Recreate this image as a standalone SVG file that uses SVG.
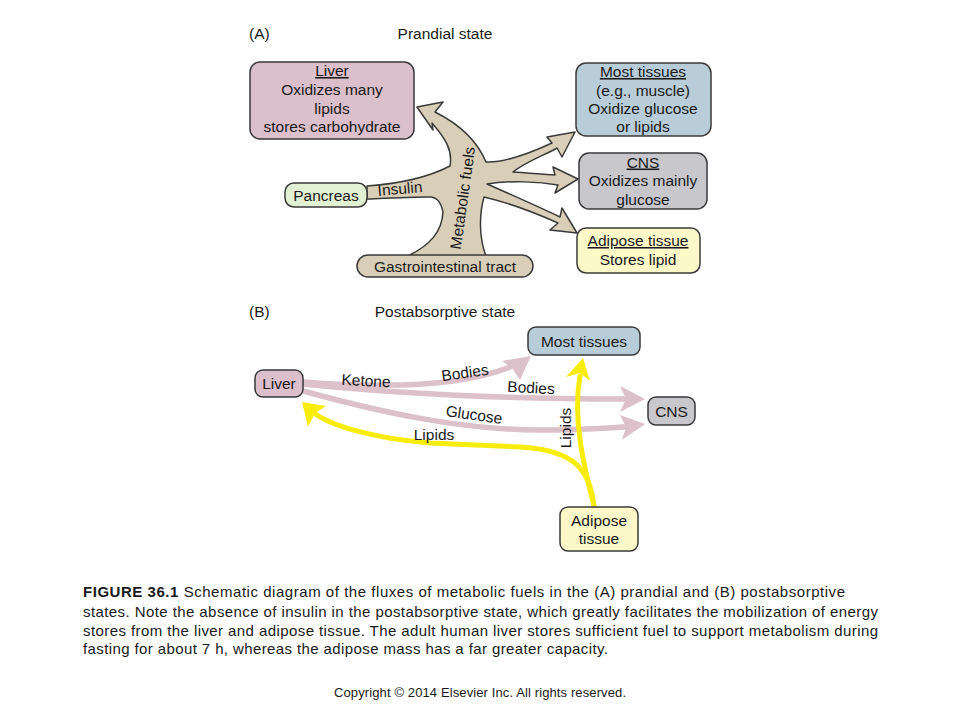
<svg xmlns="http://www.w3.org/2000/svg" width="960" height="720" viewBox="0 0 960 720">
<style>
  text { font-family: "Liberation Sans", Arial, sans-serif; fill: #1a1a1a; }
  .t { font-size: 15.5px; text-anchor: middle; }
  .u { text-decoration: underline; }
  .box { stroke: #3a3a3a; stroke-width: 1.5; }
  .liver { fill: #dbbfca; }
  .most { fill: #b9cdd8; }
  .cns { fill: #c8c8cc; }
  .adi { fill: #fcf8c8; }
  .pan { fill: #e2f0d3; }
  .tan { fill: #d9cfb9; stroke: #3a3a3a; stroke-width: 1.5; stroke-linejoin: round; }
  .pink { fill: none; stroke: #dcc0ca; stroke-width: 5.5; stroke-linecap: round; }
  .pinkh { fill: #dcc0ca; }
  .yel { fill: none; stroke: #f8ec0c; stroke-width: 5; stroke-linecap: round; }
  .yelh { fill: #f8ec0c; }
  .cap { font-size: 15px; }
</style>
<rect width="960" height="720" fill="#ffffff"/>

<!-- Part A -->
<text x="249" y="39" style="font-size:15.5px">(A)</text>
<text class="t" x="445" y="39">Prandial state</text>

<g id="connectors">
  <!-- Part A tree -->
  <path class="tan" d="M367,186 C395,184 425,179 450,166 C453,150 445,138 432,123 L433,130 L417,107 L443,102 L435,112 C455,122 476,138 486,162 C504,163 526,155 552,143 L547,137 L575,132 L562,157 L557,148 C545,155 525,162 513,172 C530,173 545,175 555,175 L553,167 L578,179 L555,193 L558,185 C540,182 510,180 487,184 C505,192 535,205 560,217 L562,208 L577,233 L550,230 L558,223 C540,215 510,203 484,197 C479,215 479,238 486,256 L408,256 C430,245 442,232 443,212 C441,202 437,197 430,197 C410,197 390,198 367,199 Z"/>
  <!-- Part B pink -->
  <path class="pink" d="M303,382 C380,388 460,387 510,367"/>
  <polygon class="pinkh" points="531,356 520,380 512,368 502,361"/>
  <path class="pink" d="M303,384 C420,396 540,399 625,399"/>
  <polygon class="pinkh" points="645,399 620,412 626,399 620,386"/>
  <path class="pink" d="M303,391 C380,412 460,430 540,430 C580,430 605,428 624,427"/>
  <polygon class="pinkh" points="645,424 622,440 626,427 620,415"/>
  <!-- Part B yellow -->
  <path class="yel" d="M594,506 C590,470 575,450 520,447 L430,443 C370,438 330,425 314,413"/>
  <polygon class="yelh" points="302,402 326,406 315,413 308,427"/>
  <path class="yel" d="M594,506 C585,470 572,420 580,376"/>
  <polygon class="yelh" points="583,358 590,381 580,373 566,377"/>
</g>

<g id="liverA">
  <rect class="box liver" x="250" y="62" width="164" height="77" rx="10"/>
  <text class="t u" x="332" y="76">Liver</text>
  <text class="t" x="332" y="95">Oxidizes many</text>
  <text class="t" x="332" y="113.5">lipids</text>
  <text class="t" x="332" y="132">stores carbohydrate</text>
</g>
<g id="mostA">
  <rect class="box most" x="576" y="63" width="135" height="73" rx="10"/>
  <text class="t u" x="643" y="77">Most tissues</text>
  <text class="t" x="643" y="95.5">(e.g., muscle)</text>
  <text class="t" x="643" y="114">Oxidize glucose</text>
  <text class="t" x="643" y="132">or lipids</text>
</g>
<g id="cnsA">
  <rect class="box cns" x="579" y="153" width="128" height="56" rx="10"/>
  <text class="t u" x="643" y="167.5">CNS</text>
  <text class="t" x="643" y="186">Oxidizes mainly</text>
  <text class="t" x="643" y="204.5">glucose</text>
</g>
<g id="adiposeA">
  <rect class="box adi" x="577" y="228" width="123" height="45" rx="9"/>
  <text class="t u" x="638" y="246">Adipose tissue</text>
  <text class="t" x="638" y="265">Stores lipid</text>
</g>
<g id="pancreas">
  <rect class="box pan" x="285" y="183" width="82" height="24" rx="9"/>
  <text class="t" x="326" y="200.5">Pancreas</text>
</g>
<g id="gi">
  <rect class="tan" x="357" y="255" width="176" height="22" rx="11"/>
  <text class="t" x="445" y="271.5">Gastrointestinal tract</text>
</g>
<text class="t" x="400" y="194" transform="rotate(-5 400 189)">Insulin</text>
<text class="t" x="463" y="203" transform="rotate(-82 463 198)">Metabolic fuels</text>

<!-- Part B -->
<text x="249" y="317" style="font-size:15.5px">(B)</text>
<text class="t" x="445" y="317">Postabsorptive state</text>

<g id="liverB">
  <rect class="box liver" x="255" y="370" width="48" height="27" rx="8"/>
  <text class="t" x="279" y="389">Liver</text>
</g>
<g id="mostB">
  <rect class="box most" x="528" y="327" width="112" height="28" rx="8"/>
  <text class="t" x="584" y="346.5">Most tissues</text>
</g>
<g id="cnsB">
  <rect class="box cns" x="648" y="397" width="47" height="28" rx="8"/>
  <text class="t" x="671.5" y="416.5">CNS</text>
</g>
<g id="adiposeB">
  <rect class="box adi" x="560" y="507" width="78" height="44" rx="8"/>
  <text class="t" x="599" y="525.5">Adipose</text>
  <text class="t" x="599" y="544">tissue</text>
</g>

<text class="t" x="366" y="386" transform="rotate(3 366 381)">Ketone</text>
<text class="t" x="465" y="378" transform="rotate(-8 465 373)">Bodies</text>
<text class="t" x="531" y="393" transform="rotate(3 531 388)">Bodies</text>
<text class="t" x="474" y="420" transform="rotate(8 474 415)">Glucose</text>
<text class="t" x="434" y="440">Lipids</text>
<text class="t" x="565" y="433.5" transform="rotate(-90 565 428)">Lipids</text>

<!-- Caption -->
<text class="cap" x="83" y="597" textLength="762" lengthAdjust="spacing"><tspan font-weight="bold">FIGURE 36.1</tspan> Schematic diagram of the fluxes of metabolic fuels in the (A) prandial and (B) postabsorptive</text>
<text class="cap" x="83" y="617" textLength="795" lengthAdjust="spacing">states.  Note the absence of insulin in the postabsorptive state,  which greatly facilitates the mobilization of energy</text>
<text class="cap" x="83" y="636" textLength="795" lengthAdjust="spacing">stores  from the liver and adipose tissue. The adult human liver stores sufficient fuel to support metabolism during</text>
<text class="cap" x="83" y="654" textLength="525" lengthAdjust="spacing">fasting for about 7 h, whereas the adipose mass has a  far greater capacity.</text>
<text x="334" y="697" style="font-size:13px" textLength="292" lengthAdjust="spacing">Copyright © 2014 Elsevier Inc. All rights reserved.</text>
</svg>
